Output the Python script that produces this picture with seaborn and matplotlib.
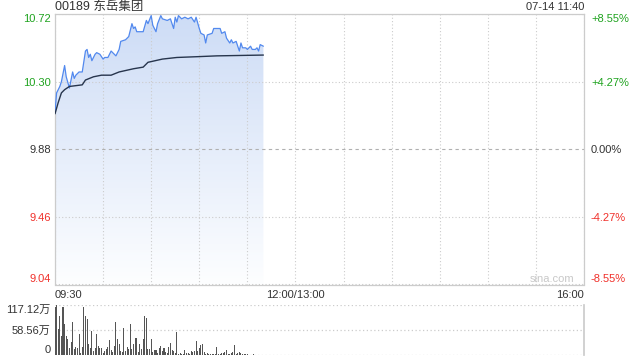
import numpy as np
import pandas as pd
import matplotlib
matplotlib.use("Agg")
import matplotlib.pyplot as plt
from matplotlib.colors import LinearSegmentedColormap
import seaborn as sns

# ---------------- data ----------------
title = "00189 东岳集团"
stamp = "07-14 11:40"
price_ticks = [9.04, 9.46, 9.88, 10.30, 10.72]
price_tick_labels = ["9.04", "9.46", "9.88", "10.30", "10.72"]
pct_labels = ["-8.55%", "-4.27%", "0.00%", "+4.27%", "+8.55%"]
time_labels = ["09:30", "12:00/13:00", "16:00"]
time_tick_min = [0, 150, 330]
vol_ticks = [0, 58.56, 117.12]
vol_tick_labels = ["0", "58.56万", "117.12万"]

price_min = [0, 1, 3, 4, 6, 7, 9, 10, 11, 12, 13, 15, 17, 19, 20, 21, 22, 23, 25, 26,
             28, 30, 31, 33, 35, 36, 38, 40, 41, 44, 46, 48, 49, 50, 51, 55, 57, 58, 60, 61,
             63, 64, 66, 67, 70, 72, 73, 74, 75, 76, 77, 79, 81, 83, 85, 87, 88, 90, 91, 93,
             94, 95, 98, 99, 103, 104, 106, 107, 109, 110, 111, 113, 115, 116, 117, 119, 120,
             122, 123, 125, 126, 127, 128, 130]
price_val = [10.11, 10.23, 10.27, 10.30, 10.40, 10.33, 10.26, 10.31, 10.36, 10.32,
             10.34, 10.36, 10.36, 10.49, 10.50, 10.45, 10.47, 10.43, 10.47, 10.48,
             10.47, 10.44, 10.45, 10.45, 10.49, 10.48, 10.46, 10.50, 10.55, 10.56,
             10.58, 10.66, 10.63, 10.64, 10.61, 10.61, 10.68, 10.66, 10.71, 10.65,
             10.61, 10.66, 10.71, 10.69, 10.68, 10.69, 10.66, 10.63, 10.70, 10.67,
             10.71, 10.69, 10.70, 10.69, 10.70, 10.67, 10.70, 10.63, 10.60, 10.59,
             10.54, 10.59, 10.60, 10.63, 10.63, 10.60, 10.61, 10.57, 10.54, 10.56,
             10.54, 10.55, 10.49, 10.54, 10.51, 10.51, 10.50, 10.52, 10.50, 10.50,
             10.51, 10.49, 10.53, 10.52]

avg_min = [0, 2, 4, 6, 9, 17, 19, 24, 29, 35, 40, 49, 55, 58, 67, 76, 89, 101, 130]
avg_val = [10.10, 10.17, 10.23, 10.25, 10.27, 10.28, 10.31, 10.33, 10.34, 10.34,
           10.36, 10.38, 10.39, 10.42, 10.44, 10.45, 10.455, 10.46, 10.465]

volume_wan = [111, 117.12, 59.5, 90.4, 44, 111, 71.9, 44, 36.4, 16.9,
              30.8, 76.5, 13.2, 18.5, 15.5, 48, 5.3, 18.5, 111, 90.4,
              82.8, 24.8, 16.9, 55.6, 9.3, 15.5, 48, 20.9, 16.9, 15.5,
              5.3, 9.3, 13.2, 18.5, 34.1, 10.9, 7.7, 20.9, 76.5, 36.4,
              24.8, 9.3, 7.7, 61.9, 9.3, 18.5, 13.2, 71.2, 13.2, 26.2,
              40.1, 38.7, 7.7, 24.8, 13.2, 36.4, 90.4, 85.1, 13.2, 13.2,
              36.4, 7.7, 10.9,
              10.9, 5.3, 16.9, 20.9, 9.3, 15.5, 7.7, 5.3, 18.5, 28.5,
              10.9, 9.3, 5.3, 54, 3, 5.3, 3, 3, 10.9, 5.3,
              5.3, 3, 9.3, 7.7, 9.3, 32.5, 9.3, 16.9, 23.2, 26.2,
              7.7, 3, 5.3, 3, 3, 1.6, 1.6, 3, 18.5, 3,
              1.6, 5.3, 5.3, 7.7, 10.9, 3, 3, 5.3, 7.7, 23.2,
              3, 5.3, 7.7, 5.3, 3, 1.6, 1.6, 1.6, 0.7, 0.7,
              0.7, 1.6, 0.7, 0.7, 0.7, 0.7, 0.7, 0.7]
vol_min = list(range(len(volume_wan)))

# ---------------- style ----------------
sns.set_theme(style="white")
plt.rcParams["font.family"] = ["Liberation Sans", "Noto Sans CJK SC", "DejaVu Sans"]

GREEN = "#1fa31f"
RED = "#f0302a"
DARK = "#333333"
GRID = "#cccccc"
label_colors = [RED, RED, DARK, GREEN, GREEN]

fig = plt.figure(figsize=(6.4, 3.6), dpi=100)
L, R = 55 / 640, 584 / 640
ax = fig.add_axes([L, 1 - 284.5 / 360, R - L, (284.5 - 14) / 360])
axv = fig.add_axes([L, 1 - 355 / 360, R - L, (355 - 304.5) / 360])

ymin, ymax = price_ticks[0], price_ticks[-1]

# gradient area under price line (kept below the grid)
poly = ax.fill_between(price_min, price_val, ymin, facecolor="none", edgecolor="none")
path = poly.get_paths()[0]
cmap = LinearSegmentedColormap.from_list("g", ["#fdfeff", "#cddcf6"])
grad = np.linspace(0, 1, 256).reshape(-1, 1)
im = ax.imshow(grad, extent=[price_min[0], price_min[-1], ymin, ymax], origin="lower",
               aspect="auto", cmap=cmap, zorder=0.1, interpolation="bilinear")
im.set_clip_path(path, ax.transData)

sns.lineplot(x=price_min, y=price_val, ax=ax, color="#5289ee", linewidth=0.9, zorder=3)
sns.lineplot(x=avg_min, y=avg_val, ax=ax, color="#27354d", linewidth=1.0, zorder=4)

ax.set_xlim(0, 330)
ax.set_ylim(ymin, ymax)
ax.set_xticks(time_tick_min)
ax.set_xticklabels(time_labels)
ax.set_xticks(range(30, 330, 30), minor=True)
ax.set_yticks(price_ticks)
ax.set_yticklabels(price_tick_labels)
ax.tick_params(axis="both", which="both", length=0, labelsize=8)
ax.tick_params(axis="y", pad=3)
ax.tick_params(axis="x", pad=4, colors=DARK)
for lab, ha in zip(ax.get_xticklabels(), ["left", "center", "right"]):
    lab.set_ha(ha)
    lab.set_color(DARK)
ylabs = ax.get_yticklabels()
for lab, c in zip(ylabs, label_colors):
    lab.set_color(c)
ylabs[0].set_va("bottom")
ylabs[-1].set_va("top")

ax.set_axisbelow(True)
ax.grid(True, which="both", axis="x", color=GRID, linestyle=(0, (1, 2)), linewidth=0.8, zorder=0.5)
ax.grid(True, which="major", axis="y", color=GRID, linestyle=(0, (1, 2)), linewidth=0.8, zorder=0.5)
ygl = ax.get_ygridlines()
ygl[2].set_linestyle((0, (3, 3)))
ygl[2].set_color("#b0b0b0")
for s in ax.spines.values():
    s.set_color(GRID)
    s.set_linewidth(0.9)
ax.set_xlabel("")
ax.set_ylabel("")

ax2 = ax.twinx()
ax2.set_ylim(ymin, ymax)
ax2.set_yticks(price_ticks)
ax2.set_yticklabels(pct_labels)
ax2.tick_params(axis="y", length=0, labelsize=8, pad=5)
rlabs = ax2.get_yticklabels()
for lab, c in zip(rlabs, label_colors):
    lab.set_color(c)
rlabs[0].set_va("bottom")
rlabs[-1].set_va("top")
for s in ax2.spines.values():
    s.set_visible(False)
ax2.grid(False)

ax.text(0.94, 0.02, "sina.com", transform=ax.transAxes, ha="center", va="center",
        fontsize=8, color="#c8c8c8")

# volume
sns.barplot(x=vol_min, y=volume_wan, ax=axv, native_scale=True, color="#555555",
            width=0.65, saturation=1, errorbar=None, linewidth=0)
axv.set_xlim(0, 330)
axv.set_ylim(0, vol_ticks[-1])
axv.set_yticks(vol_ticks)
axv.set_yticklabels(vol_tick_labels)
axv.set_xticks([])
axv.tick_params(axis="y", length=0, labelsize=8, pad=3, colors=DARK)
vlabs = axv.get_yticklabels()
vlabs[0].set_va("bottom")
vlabs[-1].set_va("top")
axv.set_axisbelow(True)
axv.grid(True, axis="y", color=GRID, linestyle=(0, (1, 2)), linewidth=0.9)
for k, s in axv.spines.items():
    s.set_visible(k == "right")
    s.set_color(GRID)
axv.set_xlabel("")
axv.set_ylabel("")

fig.text(L, 1 - 7 / 360, title, ha="left", va="center", fontsize=9, color=DARK)
fig.text(R, 1 - 7 / 360, stamp, ha="right", va="center", fontsize=8, color=DARK)

fig.savefig("out.png", dpi=100)
